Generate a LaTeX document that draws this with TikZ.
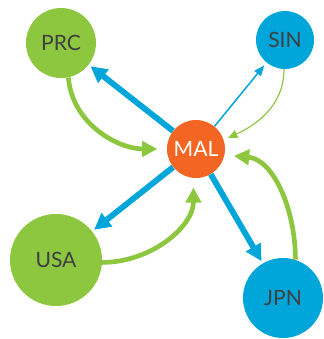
\documentclass[tikz,border=0pt]{standalone}
\usepackage{fontspec}
\setmainfont{Lato}
\usetikzlibrary{arrows.meta, positioning}
\definecolor{tie-green}{RGB}{141,198,63}
\definecolor{tie-blue}{RGB}{0,166,218}
\definecolor{tie-orange}{RGB}{242,101,34}
\definecolor{tie-text}{RGB}{64,64,64}

\begin{document}
\begin{tikzpicture}[
    x=0.03cm, y=-0.03cm,
    country/.style={circle, inner sep=0pt, text=tie-text, font=\fontsize{18}{20}\selectfont},
    greenc/.style={country, fill=tie-green},
    bluec/.style={country, fill=tie-blue},
    hub/.style={country, fill=tie-orange, text=white},
    outflow/.style={draw=tie-blue, line width=5pt, -{Triangle[length=14pt, width=14pt]}, shorten >=2pt},
    outthin/.style={draw=tie-blue, line width=1.3pt, -{Triangle[length=9pt, width=7pt]}, shorten >=3pt},
    inflow/.style={draw=tie-green, line width=4pt, -{Triangle[length=13pt, width=13pt]}, shorten >=8pt},
    inthin/.style={draw=tie-green, line width=1pt, -{Triangle[length=8pt, width=7pt]}, shorten >=4pt}
]
\useasboundingbox (0,0) rectangle (323,339);

% Laender
\node[hub, minimum size=1.74cm] (mal) at (196,149) {MAL};
\node[greenc, minimum size=2.1cm] (prc) at (61,43) {PRC};
\node[bluec, minimum size=1.74cm] (sin) at (285,40) {SIN};
\node[greenc, minimum size=2.76cm] (usa) at (56,260) {USA};
\node[bluec, minimum size=2.4cm] (jpn) at (283,298) {JPN};

% Exporte
\draw[outflow] (mal) -- (prc);
\draw[outthin] (mal) -- (sin);
\draw[outflow] (mal) -- (usa);
\draw[outflow] (mal) -- (jpn);

% Importe
\draw[inflow] (prc.-78) to[out=-85, in=180] (mal.west);
\draw[inthin] (sin.-92) to[out=-90, in=25] (mal.18);
\draw[inflow] (usa.-3) to[out=0, in=-90] (mal.-95);
\draw[inflow] (jpn.72) to[out=90, in=-5] (mal.-12);

\end{tikzpicture}
\end{document}
